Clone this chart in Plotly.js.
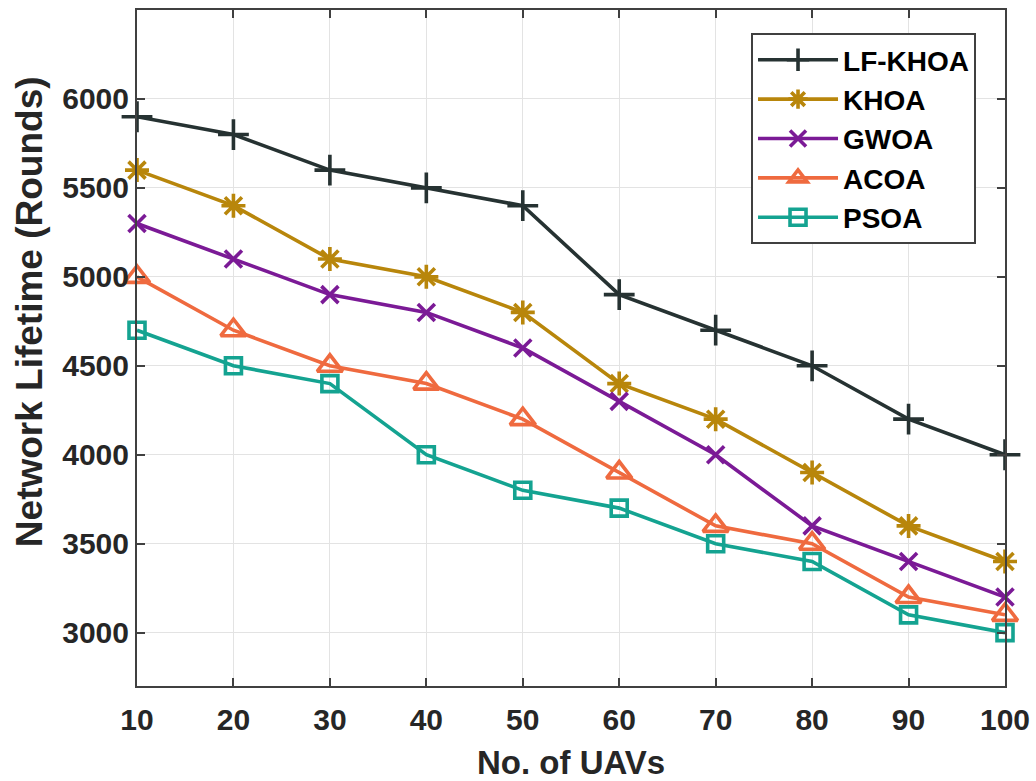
<!DOCTYPE html>
<html>
<head>
<meta charset="utf-8">
<script src="https://cdn.plot.ly/plotly-3.0.1.min.js"></script>
<style>html,body{margin:0;padding:0;background:#fff;}#chart{width:1036px;height:781px;}</style>
</head>
<body>
<div id="chart"></div>
<script>
const uavs = [10, 20, 30, 40, 50, 60, 70, 80, 90, 100];
const lfkhoa = [5900, 5800, 5600, 5500, 5400, 4900, 4700, 4500, 4200, 4000];
const khoa   = [5600, 5400, 5100, 5000, 4800, 4400, 4200, 3900, 3600, 3400];
const gwoa   = [5300, 5100, 4900, 4800, 4600, 4300, 4000, 3600, 3400, 3200];
const acoa   = [5000, 4700, 4500, 4400, 4200, 3900, 3600, 3500, 3200, 3100];
const psoa   = [4700, 4500, 4400, 4000, 3800, 3700, 3500, 3400, 3100, 3000];
const names = ['LF-KHOA', 'KHOA', 'GWOA', 'ACOA', 'PSOA'];
const yTicks = [3000, 3500, 4000, 4500, 5000, 5500, 6000];
const xTitle = 'No. of UAVs';
const yTitle = 'Network Lifetime (Rounds)';

const series = [lfkhoa, khoa, gwoa, acoa, psoa];
const colors = ['#263232', '#b8860b', '#7b1a96', '#ef6a3f', '#14a391'];
const symbols = ['cross-thin-open', 'asterisk-open', 'x-thin-open', 'triangle-up-open', 'square-open'];
const sizes = [22, 20, 17, 22, 16];

const traces = series.map((s, i) => ({
  x: uavs, y: s, name: names[i], type: 'scatter', mode: 'lines+markers',
  cliponaxis: false,
  line: {color: colors[i], width: 3.6},
  marker: {symbol: symbols[i], size: sizes[i], color: colors[i], line: {color: colors[i], width: 3.6}}
}));

const FF = 'Liberation Sans, Arial, sans-serif';
const axFont = {family: FF, size: 30, color: '#262626', weight: 'bold'};
const layout = {
  width: 1036, height: 781,
  margin: {l: 137, r: 31, t: 10, b: 95},
  paper_bgcolor: '#fff', plot_bgcolor: '#fff',
  showlegend: true,
  font: {family: FF, color: '#262626'},
  xaxis: {
    range: [10, 100], tickvals: uavs, ticktext: uavs.map(String),
    showgrid: true, gridcolor: '#e3e3e3', gridwidth: 1,
    showline: true, linecolor: '#404040', linewidth: 2, mirror: 'ticks',
    ticks: 'inside', ticklen: 8, tickwidth: 2, tickcolor: '#404040',
    tickfont: axFont, zeroline: false, ticklabelstandoff: 6
  },
  yaxis: {
    range: [2700, 6500], tickvals: yTicks, ticktext: yTicks.map(String),
    showgrid: true, gridcolor: '#e3e3e3', gridwidth: 1,
    showline: true, linecolor: '#404040', linewidth: 2, mirror: 'ticks',
    ticks: 'inside', ticklen: 8, tickwidth: 2, tickcolor: '#404040',
    tickfont: axFont, zeroline: false
  },
  annotations: [
    {text: xTitle, xref: 'paper', yref: 'paper', x: 0.5, y: 0, xanchor: 'center', yanchor: 'top',
     yshift: -56, showarrow: false, font: {family: FF, size: 33, color: '#262626', weight: 'bold'}},
    {text: yTitle, xref: 'paper', yref: 'paper', x: 0, y: 0.553, xanchor: 'center', yanchor: 'middle',
     xshift: -108, textangle: -90, showarrow: false, font: {family: FF, size: 37, color: '#262626', weight: 'bold'}}
  ],
  legend: {
    x: 0.7074, y: 0.966, xanchor: 'left', yanchor: 'top',
    bgcolor: '#fff', bordercolor: '#404040', borderwidth: 2,
    font: {family: FF, size: 28, color: '#000', weight: 'bold'},
    itemwidth: 80, tracegroupgap: 0
  }
};

Plotly.newPlot('chart', traces, layout, {displayModeBar: false, staticPlot: true});
</script>
</body>
</html>
